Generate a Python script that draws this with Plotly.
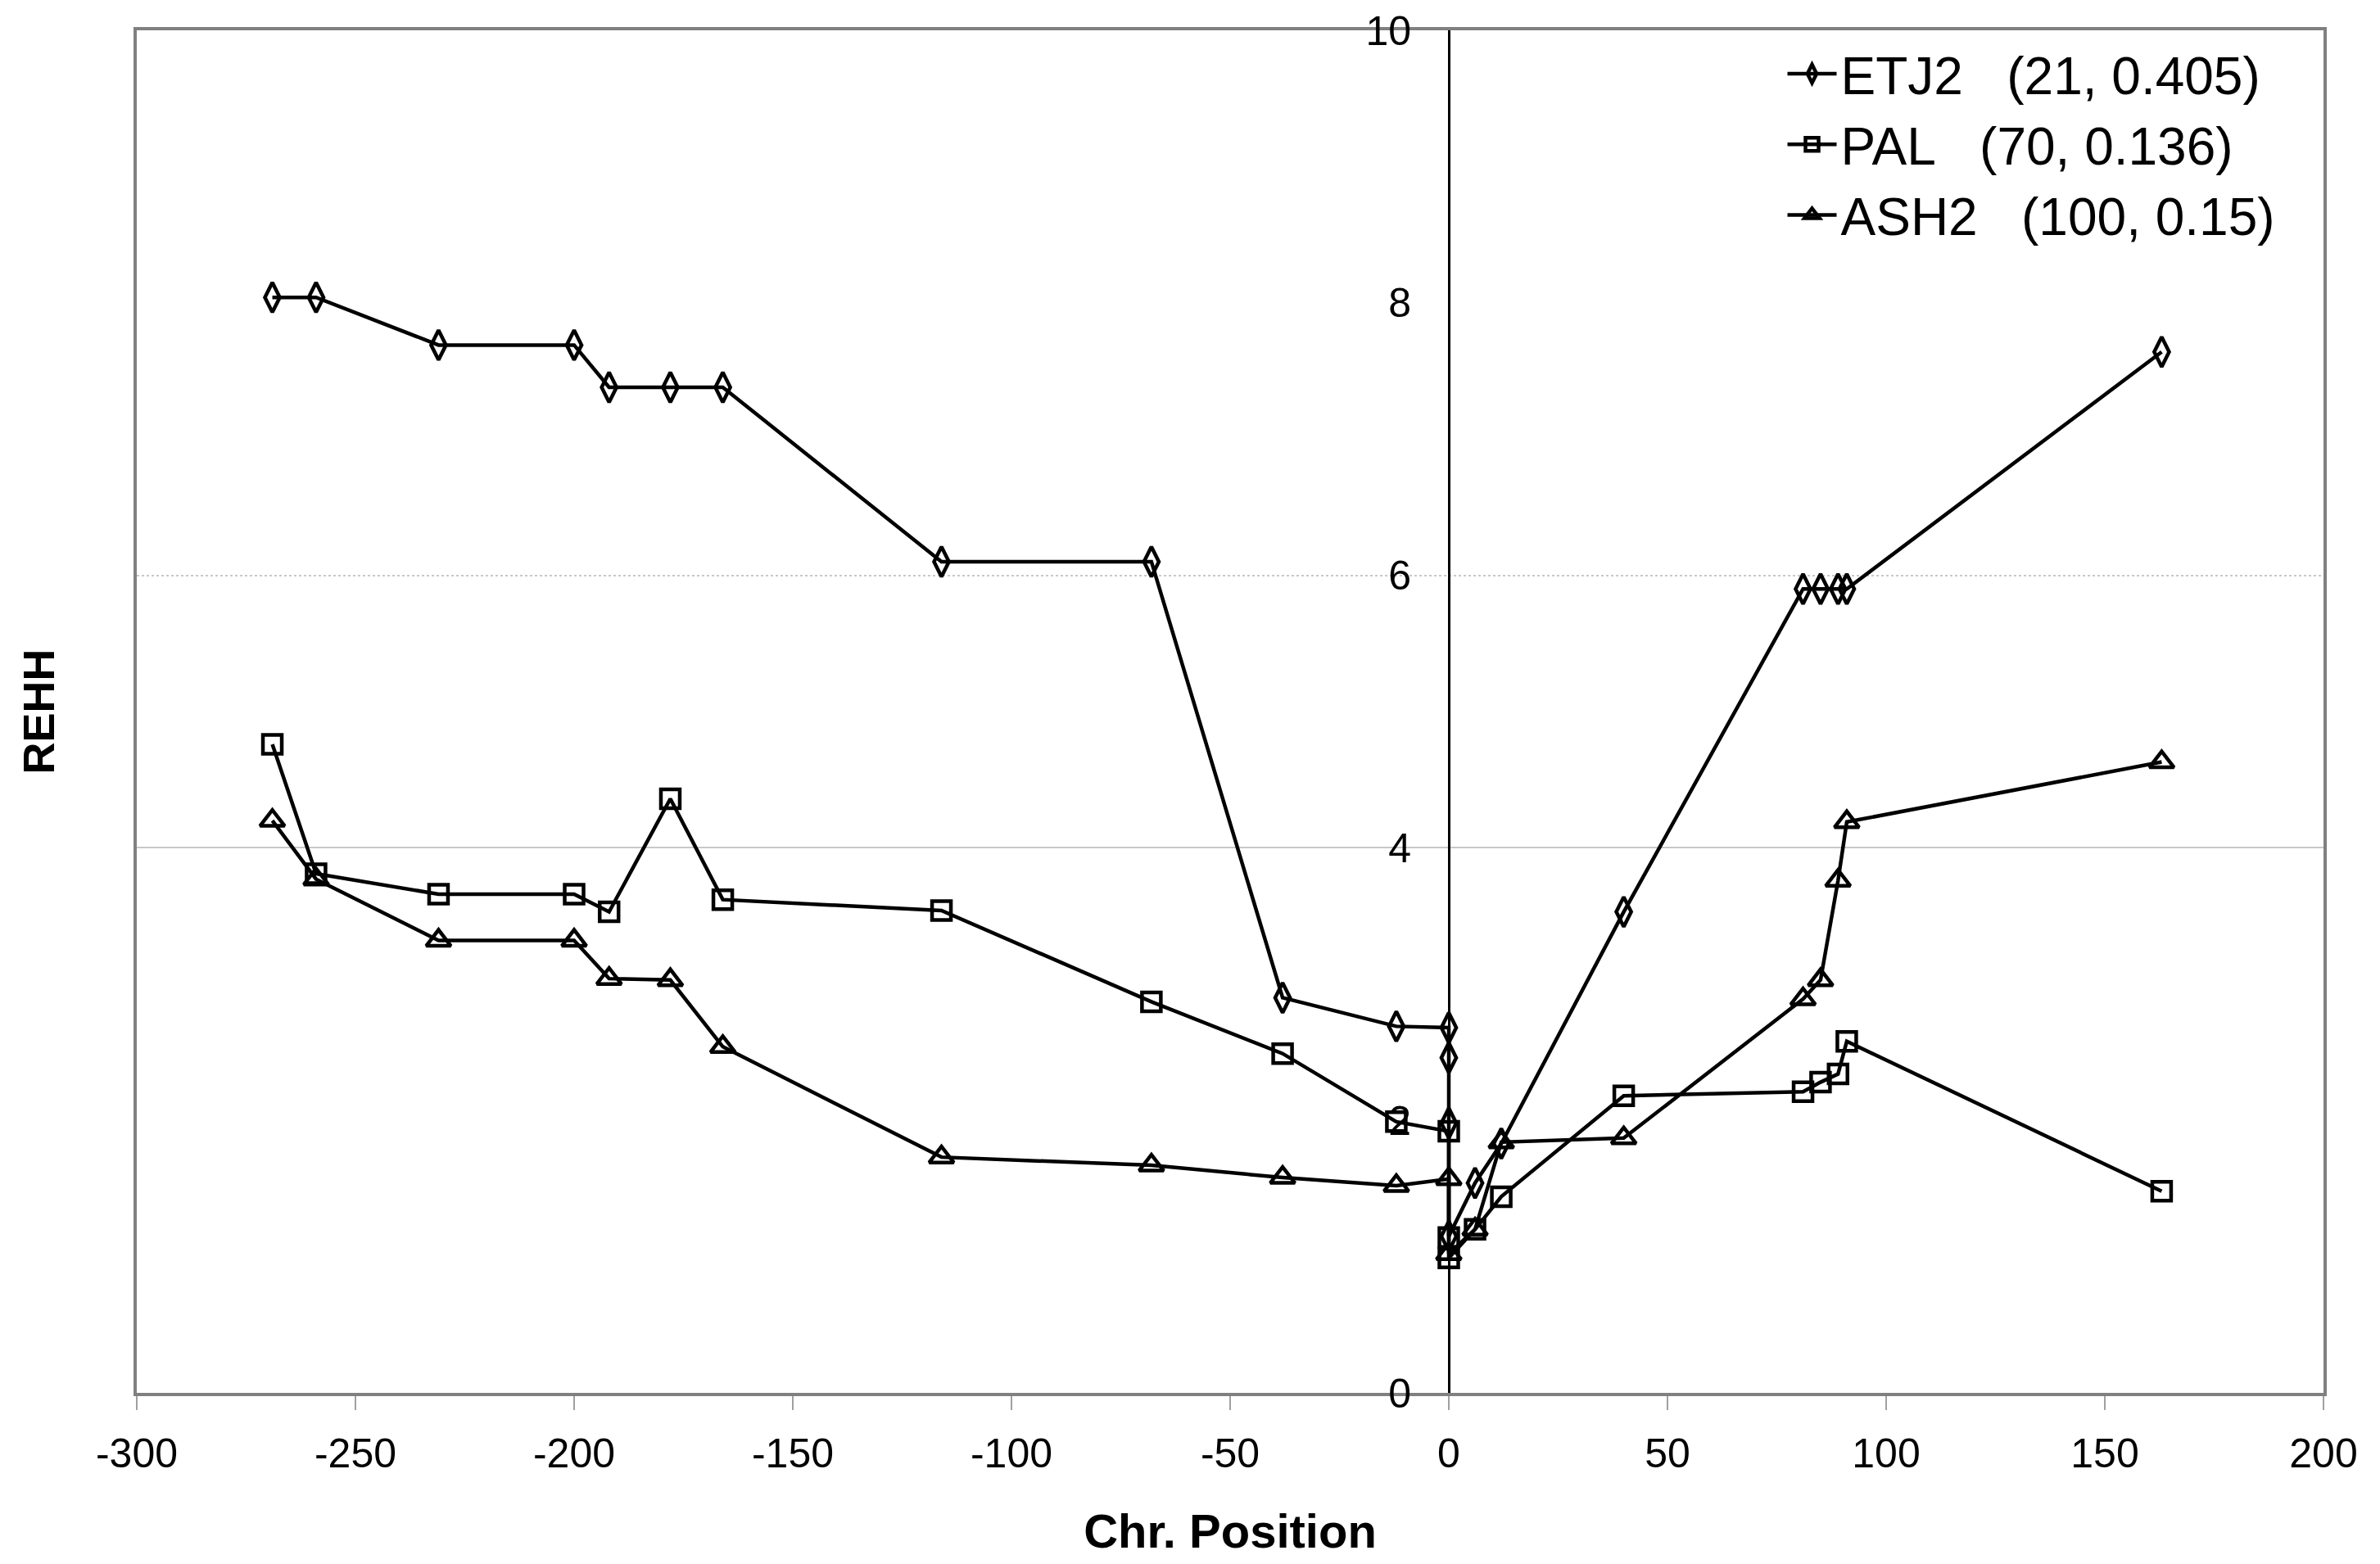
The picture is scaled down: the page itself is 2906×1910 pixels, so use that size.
import plotly.graph_objects as go

# ---- data ----
etj2_x = [-269, -259, -231, -200, -192, -178, -166, -116, -68, -38, -12, 0, 0, 0, 0, 6, 12, 40, 81, 85, 89, 91, 163]
etj2_y = [8.04, 8.04, 7.69, 7.69, 7.38, 7.38, 7.38, 6.10, 6.10, 2.90, 2.69, 2.68, 2.46, 1.98, 1.15, 1.54, 1.83, 3.53, 5.90, 5.90, 5.90, 5.90, 7.64]

pal_x = [-269, -259, -231, -200, -192, -178, -166, -116, -68, -38, -12, 0, 0, 0, 6, 12, 40, 81, 85, 89, 91, 163]
pal_y = [4.76, 3.81, 3.66, 3.66, 3.53, 4.36, 3.62, 3.54, 2.87, 2.49, 1.99, 1.92, 1.14, 0.99, 1.20, 1.44, 2.18, 2.21, 2.28, 2.34, 2.58, 1.48]

ash2_x = [-269, -259, -231, -200, -192, -178, -166, -116, -68, -38, -12, 0, 0, 6, 12, 40, 81, 85, 89, 91, 163]
ash2_y = [4.20, 3.77, 3.32, 3.32, 3.04, 3.03, 2.54, 1.73, 1.67, 1.58, 1.52, 1.57, 1.02, 1.20, 1.84, 1.87, 2.89, 3.03, 3.76, 4.19, 4.63]

series_names = ["ETJ2\u00a0\u00a0\u00a0(21, 0.405)", "PAL\u00a0\u00a0\u00a0(70, 0.136)", "ASH2\u00a0\u00a0\u00a0(100, 0.15)"]
x_ticks = [-300, -250, -200, -150, -100, -50, 0, 50, 100, 150, 200]
y_ticks = [0, 2, 4, 6, 8, 10]

FONT = "Arial, Liberation Sans, sans-serif"

fig = go.Figure()

# empty helper traces so the frame / gridline axes get drawn
fig.add_trace(go.Scatter(x=[None], y=[None], yaxis="y", showlegend=False, hoverinfo="skip"))
fig.add_trace(go.Scatter(x=[None], y=[None], yaxis="y2", showlegend=False, hoverinfo="skip"))

styles = [
    (etj2_x, etj2_y, "diamond-tall-open", 26),
    (pal_x, pal_y, "square-open", 23),
    (ash2_x, ash2_y, "triangle-up-open", 26),
]
for (xs, ys, sym, sz), name in zip(styles, series_names):
    fig.add_trace(go.Scatter(
        x=xs, y=ys, name=name, mode="lines+markers",
        line=dict(color="black", width=4.5),
        marker=dict(symbol=sym, size=sz, color="black", line=dict(color="black", width=4.5)),
        yaxis="y3",
    ))

fig.update_layout(
    width=2906, height=1910,
    margin=dict(l=159, r=77, t=29, b=217),
    paper_bgcolor="white", plot_bgcolor="white",
    font=dict(family=FONT, color="black", size=50),
    showlegend=True,
    legend=dict(
        x=0.753, y=0.997, xanchor="left", yanchor="top",
        font=dict(family=FONT, size=64, color="black"),
        bgcolor="rgba(0,0,0,0)", itemwidth=60, tracegroupgap=0,
    ),
    xaxis=dict(
        range=[-300, 200], tickvals=x_ticks, ticktext=[str(v) for v in x_ticks],
        showline=True, mirror=True, linecolor="#808080", linewidth=4,
        ticks="outside", ticklen=17, tickwidth=2, tickcolor="#a0a0a0",
        showgrid=False, zeroline=False, automargin=False,
        tickfont=dict(size=50, family=FONT, color="black"),
        ticklabelstandoff=10,
        title=dict(text="<b>Chr. Position</b>", font=dict(size=58, family=FONT, color="black"), standoff=48),
    ),
    yaxis=dict(
        range=[0, 10], tickvals=[4], showticklabels=False, ticks="",
        showgrid=True, gridcolor="#c8c8c8", gridwidth=2,
        showline=True, mirror=True, linecolor="#808080", linewidth=4,
        zeroline=False, automargin=False,
        title=dict(text="<b>REHH</b>", font=dict(size=54, family=FONT, color="black"), standoff=80),
    ),
    yaxis2=dict(
        range=[0, 10], overlaying="y", tickvals=[6], showticklabels=False, ticks="",
        showgrid=True, gridcolor="#c8c8c8", gridwidth=2, griddash="dot",
        showline=False, zeroline=False, automargin=False,
    ),
    yaxis3=dict(
        range=[0, 10], overlaying="y", anchor="free", position=0.6, side="left",
        tickvals=y_ticks, ticktext=[str(v) for v in y_ticks], ticks="",
        showline=True, linecolor="black", linewidth=3,
        showgrid=False, zeroline=False, automargin=False,
        tickfont=dict(size=50, family=FONT, color="black"),
        ticklabelstandoff=35, ticklabeloverflow="allow",
    ),
)

fig.write_html("out.html")
